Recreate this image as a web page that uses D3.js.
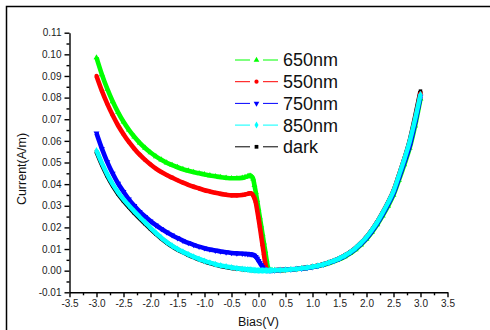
<!DOCTYPE html>
<html>
<head>
<meta charset="utf-8">
<style>
  body { margin: 0; background: #fff; }
  svg { display: block; font-family: "Liberation Sans", Arial, sans-serif; }
</style>
</head>
<body>
<svg width="490" height="330"></svg>
<script src="https://cdn.jsdelivr.net/npm/d3@7"></script>
<script>
// bias points (V)
const bias = [-3.0,-2.9,-2.8,-2.7,-2.6,-2.5,-2.4,-2.3,-2.2,-2.1,-2.0,-1.9,-1.8,-1.7,-1.6,-1.5,-1.4,-1.3,-1.2,-1.1,-1.0,-0.9,-0.8,-0.7,-0.6,-0.5,-0.4,-0.3,
  -0.25,-0.2,-0.175,-0.15,-0.125,-0.1,-0.075,-0.05,-0.025,0,0.025,0.05,0.075,0.1,0.125,0.15,0.175,0.2,0.225,0.25,
  0.3,0.4,0.5,0.6,0.7,0.8,0.9,1.0,1.1,1.2,1.3,1.4,1.5,1.6,1.7,1.8,1.9,2.0,2.1,2.2,2.3,2.4,2.5,2.6,2.7,2.8,2.9,3.0];

// current (A/m)
const current650 = [0.0985,0.0907,0.0840,0.0782,0.0732,0.0688,0.0651,0.0619,0.0591,0.0567,0.0546,0.0528,0.0513,0.0499,0.0488,0.0478,0.0469,0.0462,0.0455,0.0450,0.0445,0.0440,0.0436,0.0432,0.0429,0.0427,0.0427,0.0429,
  0.0432,0.0436,0.0438,0.0438,0.0435,0.0425,0.0395,0.0362,0.0325,0.0285,0.0246,0.0207,0.0168,0.0129,0.0090,0.0050,0.0015,0.0004,0.0002,0.0002,
  0.0002,0.0002,0.0003,0.0005,0.0007,0.0010,0.0013,0.0017,0.0021,0.0027,0.0034,0.0043,0.0053,0.0065,0.0080,0.0098,0.0120,0.0146,0.0177,0.0213,0.0254,0.0299,0.0350,0.0418,0.0490,0.0567,0.0670,0.0795];

const current550 = [0.0900,0.0831,0.0771,0.0718,0.0671,0.0631,0.0595,0.0564,0.0536,0.0512,0.0491,0.0472,0.0456,0.0442,0.0430,0.0418,0.0407,0.0397,0.0388,0.0380,0.0372,0.0366,0.0360,0.0355,0.0351,0.0348,0.0348,0.0350,
  0.0352,0.0355,0.0357,0.0358,0.0356,0.0348,0.0335,0.0315,0.0280,0.0243,0.0202,0.0160,0.0118,0.0076,0.0035,0.0008,0.0004,0.0003,0.0002,0.0002,
  0.0002,0.0003,0.0004,0.0006,0.0008,0.0011,0.0014,0.0018,0.0023,0.0029,0.0037,0.0046,0.0057,0.0070,0.0086,0.0105,0.0128,0.0155,0.0188,0.0225,0.0268,0.0315,0.0368,0.0440,0.0515,0.0595,0.0700,0.0820];

const current750 = [0.0635,0.0564,0.0502,0.0449,0.0403,0.0365,0.0330,0.0300,0.0273,0.0250,0.0229,0.0210,0.0193,0.0178,0.0164,0.0151,0.0139,0.0128,0.0119,0.0111,0.0104,0.0098,0.0093,0.0089,0.0085,0.0082,0.0080,0.0079,
  0.0078,0.0077,0.0077,0.0076,0.0075,0.0073,0.0070,0.0064,0.0056,0.0046,0.0036,0.0026,0.0017,0.0009,0.0005,0.0003,0.0002,0.0002,0.0002,0.0002,
  0.0002,0.0003,0.0004,0.0006,0.0008,0.0010,0.0013,0.0017,0.0022,0.0028,0.0036,0.0045,0.0055,0.0068,0.0083,0.0102,0.0124,0.0150,0.0182,0.0218,0.0260,0.0306,0.0357,0.0427,0.0500,0.0577,0.0684,0.0805];

const current850 = [0.0555,0.0497,0.0445,0.0400,0.0362,0.0330,0.0301,0.0274,0.0248,0.0223,0.0198,0.0174,0.0152,0.0132,0.0115,0.0100,0.0087,0.0075,0.0064,0.0054,0.0045,0.0037,0.0030,0.0024,0.0019,0.0015,0.0011,0.0008,
  0.0007,0.0005,0.0004,0.0004,0.0003,0.0003,0.0002,0.0002,0.0001,0.0001,0.0001,0.0001,0.0001,0.0001,0.0001,0.0001,0.0001,0.0001,0.0002,0.0002,
  0.0002,0.0003,0.0004,0.0006,0.0008,0.0011,0.0014,0.0018,0.0023,0.0029,0.0037,0.0046,0.0057,0.0070,0.0086,0.0105,0.0128,0.0155,0.0188,0.0225,0.0268,0.0315,0.0368,0.0440,0.0515,0.0598,0.0700,0.0815];

const currentDark = [0.0550,0.0490,0.0438,0.0393,0.0355,0.0323,0.0294,0.0267,0.0242,0.0217,0.0193,0.0170,0.0149,0.0130,0.0113,0.0098,0.0085,0.0073,0.0062,0.0052,0.0043,0.0035,0.0028,0.0022,0.0017,0.0013,0.0010,0.0007,
  0.0006,0.0005,0.0004,0.0003,0.0003,0.0002,0.0002,0.0001,0.0001,0.0000,0.0000,0.0000,0.0000,0.0001,0.0001,0.0001,0.0001,0.0001,0.0001,0.0002,
  0.0002,0.0003,0.0004,0.0006,0.0008,0.0011,0.0014,0.0018,0.0023,0.0029,0.0037,0.0046,0.0057,0.0070,0.0086,0.0105,0.0128,0.0155,0.0188,0.0225,0.0268,0.0315,0.0368,0.0440,0.0515,0.0600,0.0710,0.0830];

const xTicks = [-3.5,-3.0,-2.5,-2.0,-1.5,-1.0,-0.5,0.0,0.5,1.0,1.5,2.0,2.5,3.0,3.5];
const xMinor = [-3.25,-2.75,-2.25,-1.75,-1.25,-0.75,-0.25,0.25,0.75,1.25,1.75,2.25,2.75,3.25];
const yTicks = [-0.01,0.00,0.01,0.02,0.03,0.04,0.05,0.06,0.07,0.08,0.09,0.10,0.11];
const yMinor = [-0.005,0.005,0.015,0.025,0.035,0.045,0.055,0.065,0.075,0.085,0.095,0.105];

const series = [
  {name: "dark",  values: currentDark, color: "#000000", symbol: d3.symbolSquare,   rot: 0,   size: 12},
  {name: "650nm", values: current650,  color: "#00ff00", symbol: d3.symbolTriangle, rot: 0,   size: 15},
  {name: "550nm", values: current550,  color: "#ff0000", symbol: d3.symbolCircle,   rot: 0,   size: 14},
  {name: "750nm", values: current750,  color: "#0000ff", symbol: d3.symbolTriangle, rot: 180, size: 15},
  {name: "850nm", values: current850,  color: "#00ffff", symbol: d3.symbolDiamond,  rot: 0,   size: 14}
];
const legendOrder = ["650nm", "550nm", "750nm", "850nm", "dark"];

const svg = d3.select("svg"),
      margin = {top: 32.7, left: 69.5},
      width = 378,
      height = 259.6;

// outer frame
svg.append("rect")
   .attr("x", 6.5).attr("y", 6.5)
   .attr("width", 520).attr("height", 400)
   .attr("fill", "none").attr("stroke", "#000").attr("stroke-width", 1.5);

const chartArea = svg.append("g")
                     .attr("transform", `translate(${margin.left},${margin.top})`);

const x = d3.scaleLinear().domain([-3.5, 3.5]).range([0, width]);
const y = d3.scaleLinear().domain([-0.01, 0.11]).range([height, 0]);

// axes
const xAxisGroup = chartArea.append("g")
   .attr("transform", `translate(0,${height})`)
   .call(d3.axisBottom(x).tickValues(xTicks).tickFormat(d => d.toFixed(1)).tickSize(5).tickSizeOuter(0));
chartArea.append("g")
   .attr("transform", `translate(0,${height})`)
   .call(d3.axisBottom(x).tickValues(xMinor).tickFormat("").tickSize(3))
   .call(g => g.select(".domain").remove());

const yAxisGroup = chartArea.append("g")
   .call(d3.axisLeft(y).tickValues(yTicks).tickFormat(d => d.toFixed(2)).tickSize(5).tickSizeOuter(0));
chartArea.append("g")
   .call(d3.axisLeft(y).tickValues(yMinor).tickFormat("").tickSize(3))
   .call(g => g.select(".domain").remove());

chartArea.selectAll(".domain, .tick line").attr("stroke", "#000").attr("stroke-width", 1.4);
chartArea.selectAll(".tick text")
   .attr("font-family", "Liberation Sans, Arial, sans-serif")
   .attr("font-size", 10).attr("fill", "#222");

// axis titles
svg.append("text")
   .attr("x", margin.left + x(0)).attr("y", 326)
   .attr("text-anchor", "middle")
   .attr("font-size", 12.5).attr("fill", "#111")
   .text("Bias(V)");
svg.append("text")
   .attr("transform", "translate(26,169) rotate(-90)")
   .attr("text-anchor", "middle")
   .attr("font-size", 12.5).attr("fill", "#111")
   .text("Current(A/m)");

// curves
const line = d3.line()
   .x((d, i) => x(bias[i]))
   .y(d => y(d))
   .curve(d3.curveMonotoneX);

series.forEach(s => {
  const g = chartArea.append("g");
  g.append("path")
   .datum(s.values)
   .attr("d", line)
   .attr("fill", "none")
   .attr("stroke", s.color)
   .attr("stroke-width", 4.6)
   .attr("stroke-linejoin", "round");
  g.selectAll("path.pt")
   .data(s.values)
   .enter()
   .append("path")
   .attr("class", "pt")
   .attr("d", d3.symbol().type(s.symbol).size(s.size))
   .attr("transform", (d, i) => `translate(${x(bias[i])},${y(d)}) rotate(${s.rot})`)
   .attr("fill", s.color);
});

// legend
const legend = svg.append("g");
legendOrder.forEach((name, i) => {
  const s = series.find(d => d.name === name);
  const ly = 60 + i * 21.7;
  legend.append("line").attr("x1", 235).attr("x2", 250).attr("y1", ly).attr("y2", ly)
        .attr("stroke", s.color).attr("stroke-width", 1);
  legend.append("line").attr("x1", 263).attr("x2", 278).attr("y1", ly).attr("y2", ly)
        .attr("stroke", s.color).attr("stroke-width", 1);
  legend.append("path")
        .attr("d", d3.symbol().type(s.symbol).size(14))
        .attr("transform", `translate(256.5,${ly}) rotate(${s.rot})`)
        .attr("fill", s.color);
  legend.append("text")
        .attr("x", 283).attr("y", ly).attr("dy", "0.36em")
        .attr("font-size", 18).attr("fill", "#111")
        .text(name);
});
</script>
</body>
</html>
